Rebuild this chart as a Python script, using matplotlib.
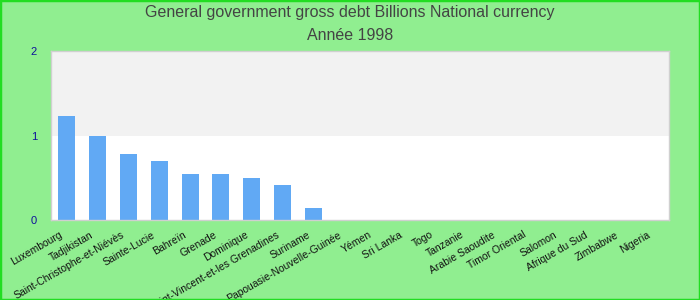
import matplotlib
matplotlib.use("Agg")
import matplotlib.pyplot as plt
import matplotlib.transforms as mtransforms
from matplotlib.patches import Rectangle

plt.rcParams['font.family'] = ['Liberation Sans', 'DejaVu Sans']

countries = ["Luxembourg", "Tadjikistan", "Saint-Christophe-et-Niévès", "Sainte-Lucie",
             "Bahreïn", "Grenade", "Dominique", "Saint-Vincent-et-les Grenadines",
             "Suriname", "Papouasie-Nouvelle-Guinée", "Yémen", "Sri Lanka", "Togo",
             "Tanzanie", "Arabie Saoudite", "Timor Oriental", "Salomon",
             "Afrique du Sud", "Zimbabwe", "Nigeria"]
debt = [1.23, 0.99, 0.78, 0.70, 0.54, 0.54, 0.50, 0.41, 0.14,
        0, 0, 0, 0, 0, 0, 0, 0, 0, 0, 0]
yticks = [0, 1, 2]

fig = plt.figure(figsize=(7, 3), dpi=100, facecolor="#90ee90")
ax = fig.add_axes([51/700, 80/300, 618/700, 169/300])
ax.set_facecolor("white")

# shaded upper band
ax.axhspan(1, 2, color="#f2f2f2", zorder=0, lw=0)

x = range(len(countries))
ax.bar(x, debt, width=0.55, color="#61a9f4", zorder=2)
ax.set_xlim(-0.5, len(countries) - 0.5)
ax.set_ylim(0, 2)

ax.set_yticks(yticks)
ax.set_yticklabels([str(v) for v in yticks], color="#10109a", fontsize=8)
ax.tick_params(axis="y", length=0, pad=10)
ax.set_xticks(list(x))
ax.set_xticklabels(countries, rotation=30, ha="right", rotation_mode="anchor",
                   fontsize=7.5, color="#111111")
ax.tick_params(axis="x", length=0, pad=7)
shift = mtransforms.ScaledTranslation(-7/100, 0, fig.dpi_scale_trans)
for lbl in ax.get_xticklabels():
    lbl.set_transform(lbl.get_transform() + shift)

for s in ax.spines.values():
    s.set_color("#d0d0d0")
    s.set_linewidth(1)

fig.text(0.5, 1 - 12/300, "General government gross debt Billions National currency",
         ha="center", va="center", fontsize=11.5, color="#444444")
fig.text(0.5, 1 - 35/300, "Année 1998",
         ha="center", va="center", fontsize=11.5, color="#444444")

fig.patches.append(Rectangle((0, 0), 1, 1, transform=fig.transFigure, fill=False,
                             edgecolor="#22dd22", linewidth=2.5))

fig.savefig("out.png", dpi=100, facecolor=fig.get_facecolor())
